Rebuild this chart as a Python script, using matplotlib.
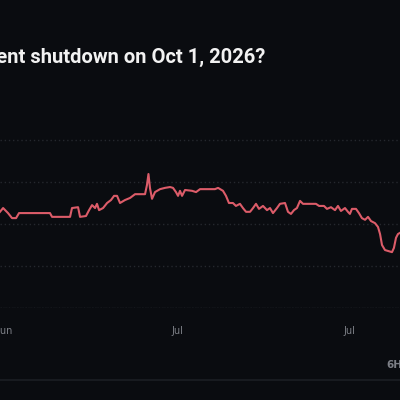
import matplotlib
matplotlib.use("Agg")
import matplotlib.pyplot as plt
from matplotlib import font_manager

BG = "#0a0c10"
LINE = "#dc5c69"
GRID = "#25282e"
LABEL = "#7c7f86"

TITLE = "Will there be a government shutdown on Oct 1, 2026?"

# days since the first tick, chance in percent
days = [-0.44, -0.17, 0.26, 0.61, 0.96, 1.22, 3.92, 4.10, 5.67, 5.84, 6.37, 6.54,
        7.06, 7.33, 7.59, 7.85, 8.02, 8.20, 8.55, 8.90, 9.24, 9.51, 9.77, 10.03,
        10.46, 10.90, 11.34, 12.21, 12.38, 12.51, 12.64, 12.82, 13.08, 13.52,
        13.95, 14.39, 14.65, 14.91, 15.09, 15.26, 15.44, 15.70, 16.31, 16.66,
        17.01, 18.31, 18.58, 19.01, 19.27, 19.53, 19.88, 20.14, 20.49, 20.75,
        21.02, 21.37, 21.63, 21.89, 22.15, 22.50, 22.85, 23.11, 23.37, 23.72,
        23.98, 24.42, 24.68, 24.94, 25.20, 25.46, 25.73, 25.99, 27.12, 27.39,
        27.82, 28.08, 28.43, 28.78, 29.04, 29.30, 29.65, 29.91, 30.08, 30.26,
        30.61, 30.87, 31.13, 31.40, 31.66, 31.92, 32.27, 32.53, 32.71, 32.88,
        33.14, 33.75, 33.92, 34.10, 34.27, 34.45]
chance = [22.9, 23.8, 22.6, 21.4, 21.4, 22.6, 22.6, 21.7, 21.7, 23.8, 24.0, 21.7,
          21.9, 23.3, 24.5, 23.8, 24.8, 23.3, 23.8, 25.0, 25.7, 26.7, 26.7, 25.0,
          25.7, 26.2, 27.1, 27.1, 29.3, 31.9, 28.6, 26.0, 27.6, 28.3,
          28.6, 28.8, 28.6, 27.6, 26.7, 27.9, 26.7, 28.1, 27.9, 27.6,
          28.3, 28.3, 28.6, 27.9, 26.7, 25.0, 25.0, 24.3, 24.8, 23.8,
          22.9, 22.9, 23.8, 24.8, 23.6, 24.3, 23.3, 23.8, 22.6, 23.8,
          24.8, 25.0, 22.9, 22.4, 23.3, 23.8, 25.5, 24.8, 24.8, 24.3,
          24.3, 23.6, 24.0, 23.3, 24.3, 23.1, 23.8, 22.9, 22.4, 23.6,
          23.6, 22.6, 21.4, 21.0, 21.7, 20.7, 20.2, 19.3, 17.6, 15.0,
          13.8, 13.3, 14.3, 16.7, 17.6, 17.9]

tick_days = [0, 15, 30]
tick_labels = ["Jun", "Jul", "Jul"]
y_ticks = [0, 10, 20, 30, 40]

names = {f.name for f in font_manager.fontManager.ttflist}
title_font = "Liberation Sans Narrow" if "Liberation Sans Narrow" in names else "Roboto"

fig = plt.figure(figsize=(4, 4), dpi=100, facecolor=BG)
ax = fig.add_axes([0, 0.23, 1, 0.4725])
ax.set_facecolor(BG)

ax.plot(days, chance, color=LINE, lw=1.5, solid_joinstyle="round")

ax.set_xlim(-0.44, 34.45)
ax.set_ylim(0, 45)
ax.set_yticks(y_ticks)
ax.yaxis.grid(True, color=GRID, linestyle=(0, (1, 2)), lw=1)
ax.tick_params(axis="y", left=False, labelleft=False)
ax.set_xticks(tick_days)
ax.set_xticklabels(tick_labels, color=LABEL, fontsize=7)
ax.tick_params(axis="x", length=0, pad=13)
for s in ax.spines.values():
    s.set_visible(False)
ax.axhline(0, color="#2c2f35", lw=1, linestyle=(0, (1, 1)))

fig.text(265 / 400, 1 - 63 / 400, TITLE, ha="right", va="baseline",
         color="#f2f2f2", fontsize=14.5, fontweight="bold", family=title_font)
fig.text(386 / 400, 1 - 365 / 400, "6H", ha="left", va="center",
         color=LABEL, fontsize=7.5, fontweight="bold")
fig.add_artist(plt.Line2D([0, 1], [1 - 380 / 400] * 2, color="#1c1f24", lw=1.2))

fig.savefig("out.png", dpi=100, facecolor=BG)
